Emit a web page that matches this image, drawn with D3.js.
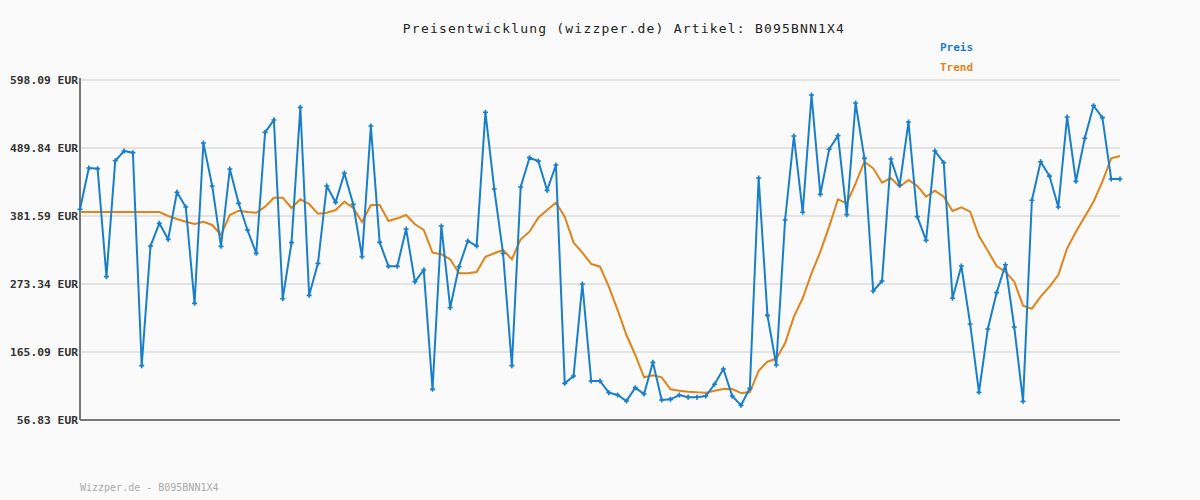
<!DOCTYPE html>
<html><head><meta charset="utf-8">
<script src="https://cdn.jsdelivr.net/npm/d3@7"></script>
<style>body{margin:0;background:#fafafa}</style></head>
<body><svg id="c" width="1200" height="500"></svg>
<script>
const priceValues=[392.3,458.0,456.9,285.0,469.6,485.1,482.4,143.3,333.8,369.9,344.5,419.3,395.9,242.6,497.8,429.4,333.3,456.4,401.8,359.3,322.2,514.8,534.4,249.9,339.1,554.6,255.3,306.3,429.4,403.4,449.6,400.2,316.8,524.9,339.7,301.5,301.5,360.9,277.0,295.6,105.7,365.7,235.6,300.9,341.8,333.8,546.7,424.6,322.2,143.3,427.7,474.4,469.0,422.5,462.8,115.2,126.9,273.3,118.9,118.9,100.3,96.6,87.1,108.3,98.2,148.7,88.7,89.8,96.6,93.0,93.0,95.0,113.7,138.0,95.0,80.2,107.3,442.1,223.5,144.4,375.2,508.9,387.5,574.2,416.1,487.8,509.4,383.7,561.5,473.4,262.2,278.1,472.3,430.5,531.2,380.5,342.9,485.1,466.4,250.6,302.0,209.7,100.9,201.7,259.5,304.0,204.9,86.6,406.6,468.0,445.2,395.9,539.2,436.8,505.3,557.2,538.1,440.5,440.5];
const trendValues=[388.0,388.0,388.0,388.0,388.0,388.0,388.0,388.0,388.0,388.0,381.6,376.8,372.5,368.8,372.5,367.3,351.3,383.2,390.0,388.0,386.8,396.4,410.7,410.7,394.3,408.2,400.7,385.2,386.8,391.1,404.3,394.3,372.0,399.1,399.1,373.6,377.9,383.2,368.4,359.3,323.2,320.6,312.7,290.4,290.4,292.4,316.8,322.2,327.4,312.7,344.5,356.6,378.9,391.1,402.8,380.5,339.1,323.2,305.2,300.9,269.0,231.9,192.1,160.3,124.8,128.0,124.8,105.7,103.5,101.9,100.9,100.3,103.5,106.2,106.2,99.7,100.9,135.3,149.6,154.4,178.9,221.3,250.6,290.4,324.8,364.6,408.2,401.8,433.6,468.0,457.5,434.6,442.1,428.2,438.9,429.4,412.3,421.9,412.3,389.5,395.4,388.4,349.7,326.3,302.0,292.9,277.0,238.8,234.0,253.1,269.0,287.6,330.2,356.6,380.5,404.3,436.2,473.4,477.1];
const tickValues=[56.83,165.09,273.34,381.59,489.84,598.09];
const titleText="Preisentwicklung (wizzper.de) Artikel: B095BNN1X4";
const footerText="Wizzper.de - B095BNN1X4";
const seriesNames=["Preis","Trend"];
const colors=["#1a7fc9","#e0841a"];

const svg=d3.select("#c");
const L=80,R=1120,T=80,B=420;
const x=d3.scaleLinear().domain([0,priceValues.length-1]).range([L,R]);
const y=d3.scaleLinear().domain([56.83,598.09]).range([B,T]);
const mono="'DejaVu Sans Mono', monospace";

svg.append("rect").attr("width",1200).attr("height",500).attr("fill","#fafafa");
svg.append("g").selectAll("line").data(tickValues).join("line")
  .attr("x1",L).attr("x2",R).attr("y1",d=>y(d)).attr("y2",d=>y(d))
  .attr("stroke","#e3e3e3").attr("stroke-width",2);
svg.append("g").selectAll("text").data(tickValues).join("text")
  .attr("x",78).attr("y",d=>y(d)+4).attr("text-anchor","end")
  .attr("font-family",mono).attr("font-weight","bold").attr("font-size",11.3).attr("fill","#333")
  .text(d=>d.toFixed(2)+" EUR");
svg.append("line").attr("x1",L).attr("x2",L).attr("y1",T-2).attr("y2",B).attr("stroke","#777").attr("stroke-width",2);
svg.append("line").attr("x1",L).attr("x2",R).attr("y1",B).attr("y2",B).attr("stroke","#777").attr("stroke-width",2);

const line=d3.line().x((d,i)=>x(i)).y(d=>y(d));
svg.append("path").datum(trendValues).attr("d",line).attr("fill","none").attr("stroke",colors[1]).attr("stroke-width",2);
svg.append("path").datum(priceValues).attr("d",line).attr("fill","none").attr("stroke",colors[0]).attr("stroke-width",2);
svg.append("g").selectAll("path").data(priceValues).join("path")
  .attr("d",d3.symbol(d3.symbolCross,14)).attr("transform",(d,i)=>`translate(${x(i)},${y(d)})`).attr("fill",colors[0]);

svg.append("text").attr("x",624).attr("y",33).attr("text-anchor","middle").attr("font-family",mono).attr("font-size",13).attr("letter-spacing",1.2).attr("fill","#222").text(titleText);
seriesNames.forEach((n,i)=>svg.append("text").attr("x",940).attr("y",51+i*20).attr("font-family",mono).attr("font-weight","bold").attr("font-size",11).attr("fill",colors[i]).text(n));
svg.append("text").attr("x",80).attr("y",491).attr("font-family",mono).attr("font-size",10).attr("fill","#aaa").text(footerText);
</script></body></html>
